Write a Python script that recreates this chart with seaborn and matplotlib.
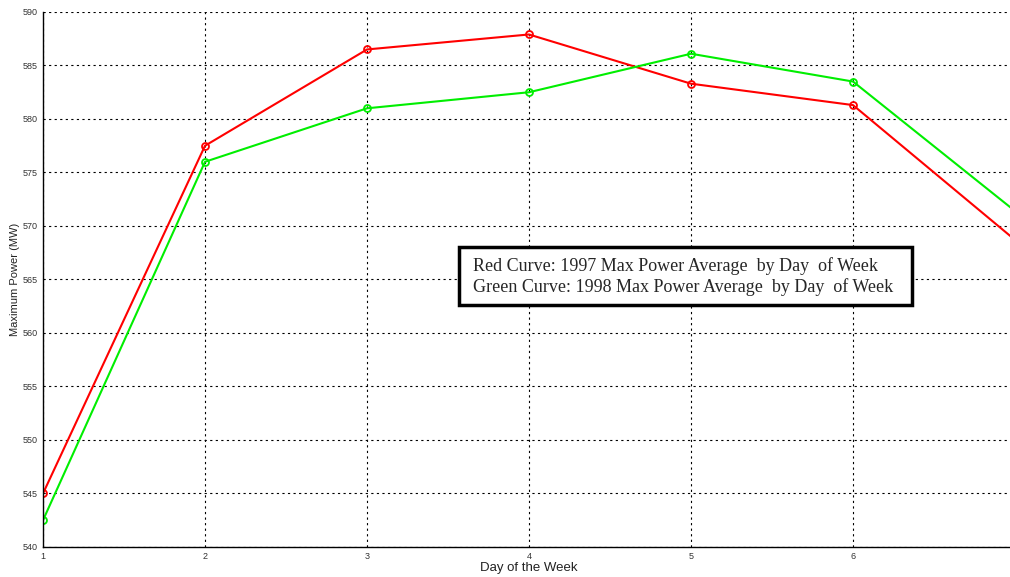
import numpy as np
import pandas as pd
import matplotlib
matplotlib.use("Agg")
import matplotlib.pyplot as plt
import seaborn as sns
from matplotlib.patches import Rectangle

# Data
days = [1, 2, 3, 4, 5, 6, 7]
power_1997 = [545.0, 577.5, 586.5, 587.9, 583.3, 581.3, 568.7]
power_1998 = [542.5, 576.0, 581.0, 582.5, 586.1, 583.5, 571.4]
y_ticks = [540, 545, 550, 555, 560, 565, 570, 575, 580, 585, 590]
x_ticks = [1, 2, 3, 4, 5, 6]

df = pd.DataFrame({
    "day": days * 2,
    "power": power_1997 + power_1998,
    "year": ["1997"] * len(days) + ["1998"] * len(days),
})

sns.set_style("white")
plt.rcParams["font.family"] = ["Liberation Sans", "DejaVu Sans"]

fig = plt.figure(figsize=(10.1, 5.77), dpi=100)
ax = fig.add_axes([43 / 1010, 30 / 577, 6 * 162 / 1010, 535 / 577])

sns.lineplot(data=df, x="day", y="power", hue="year",
             palette={"1997": "#ff0000", "1998": "#00ee00"},
             marker="o", markersize=5, markerfacecolor="none",
             markeredgewidth=1.3, linewidth=1.5, legend=False, ax=ax)
for line, c in zip(ax.lines, ["#ff0000", "#00ee00"]):
    line.set_markeredgecolor(c)

ax.set_xlim(1, 7)
ax.set_ylim(540, 590)
ax.set_xticks(x_ticks)
ax.set_yticks(y_ticks)
ax.tick_params(direction="in", length=4, labelsize=6.5, colors="black",
               labelcolor="#333333")
ax.grid(True, color="black", linestyle=(0, (2, 3)), linewidth=0.8)
for s in ["top", "right"]:
    ax.spines[s].set_visible(False)
for s in ["left", "bottom"]:
    ax.spines[s].set_color("black")
    ax.spines[s].set_linewidth(1.0)

ax.set_xlabel("Day of the Week", fontsize=9.5, labelpad=1, color="#222222")
ax.set_ylabel("Maximum Power (MW)", fontsize=8, labelpad=0, color="#222222")
ax.yaxis.set_label_coords(-23 / 972, 0.5)

# annotation box
fig.patches.append(Rectangle((459 / 1010, 272 / 577), 453 / 1010, 58 / 577,
                             transform=fig.transFigure, fill=True,
                             facecolor="white", edgecolor="black",
                             linewidth=2.5, zorder=5))
serif = ["Liberation Serif", "DejaVu Serif"]
fig.text(473 / 1010, 1 - 266 / 577,
         "Red Curve: 1997 Max Power Average  by Day  of Week",
         family=serif, fontsize=13, va="center", zorder=6)
fig.text(473 / 1010, 1 - 287 / 577,
         "Green Curve: 1998 Max Power Average  by Day  of Week",
         family=serif, fontsize=13, va="center", zorder=6)

fig.savefig("out.png", dpi=100)
